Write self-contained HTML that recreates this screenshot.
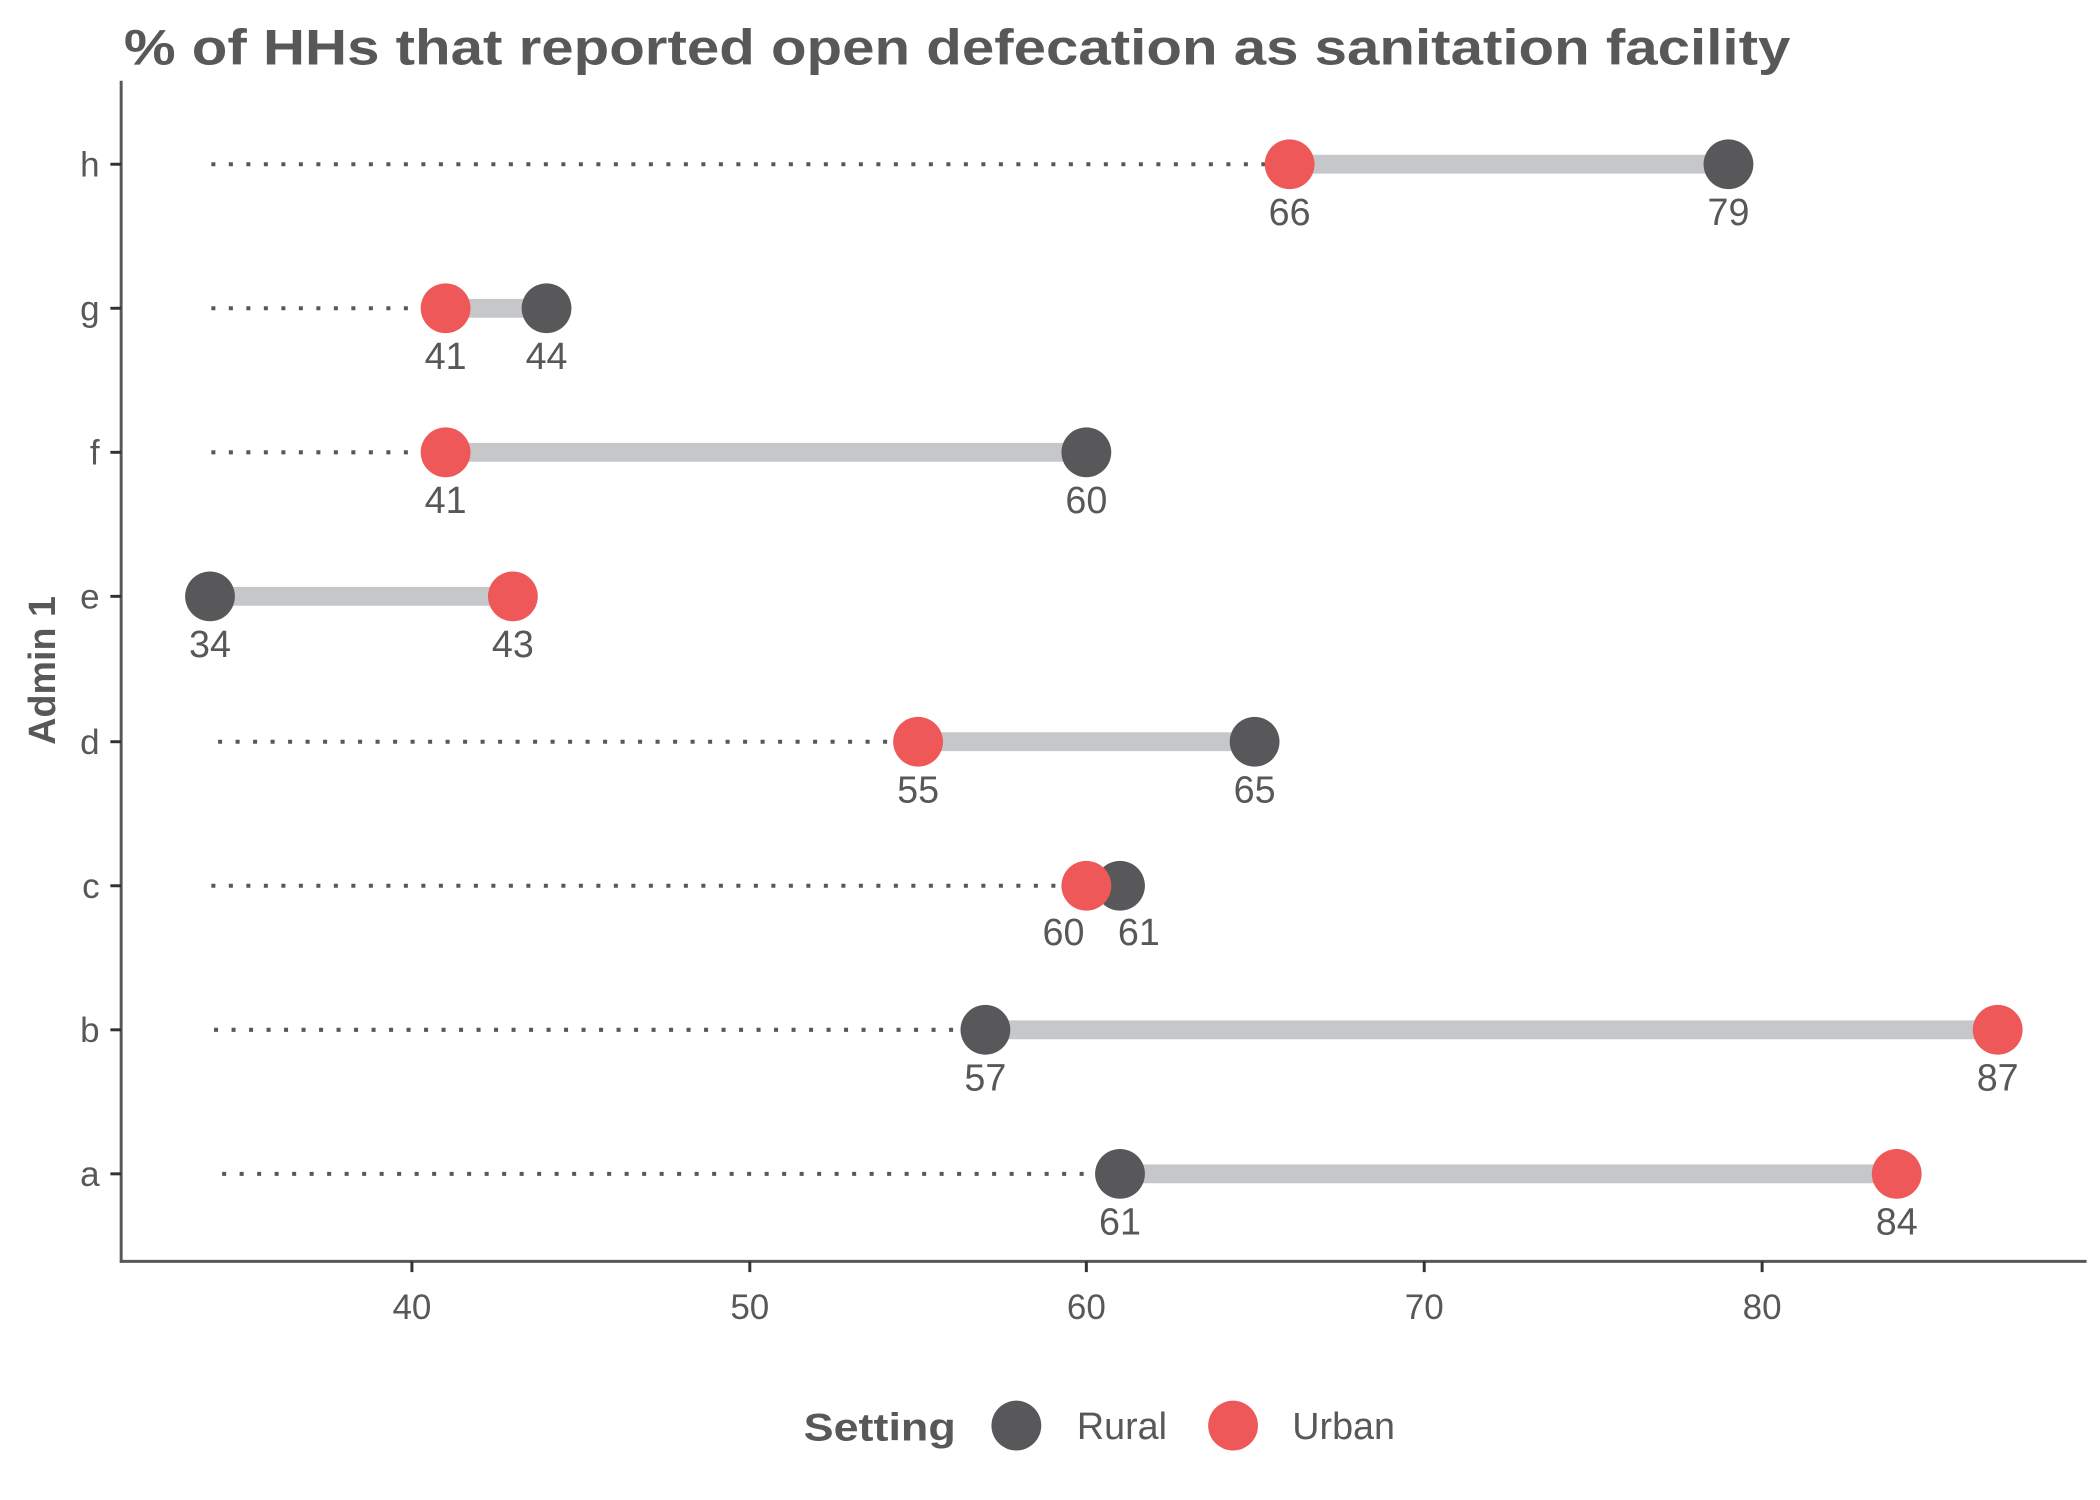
<!DOCTYPE html>
<html><head><meta charset="utf-8"><style>html,body{margin:0;padding:0;background:#fff;}svg{display:block;}</style></head>
<body>
<svg width="2100" height="1500" viewBox="0 0 1560 1114.29" xmlns="http://www.w3.org/2000/svg" font-family="Liberation Sans, sans-serif">
<rect width="1560" height="1114.29" fill="#fff"/>
<text x="92" y="48" font-size="37" font-weight="bold" fill="#58585a" textLength="1238" lengthAdjust="spacingAndGlyphs">% of HHs that reported open defecation as sanitation facility</text>
<line x1="90" y1="60" x2="90" y2="938" stroke="#58585a" stroke-width="2.2"/>
<line x1="89" y1="937" x2="1550" y2="937" stroke="#58585a" stroke-width="2.2"/>
<g stroke="#333" stroke-width="2.2">
<line x1="82" y1="122" x2="90" y2="122"/><line x1="82" y1="229" x2="90" y2="229"/><line x1="82" y1="336" x2="90" y2="336"/><line x1="82" y1="443" x2="90" y2="443"/><line x1="82" y1="551" x2="90" y2="551"/><line x1="82" y1="658" x2="90" y2="658"/><line x1="82" y1="765" x2="90" y2="765"/><line x1="82" y1="872" x2="90" y2="872"/>
<line x1="306" y1="937" x2="306" y2="945"/><line x1="557" y1="937" x2="557" y2="945"/><line x1="807" y1="937" x2="807" y2="945"/><line x1="1058" y1="937" x2="1058" y2="945"/><line x1="1309" y1="937" x2="1309" y2="945"/>
</g>
<g font-size="26" fill="#58585a" text-anchor="end">
<text x="74" y="131">h</text><text x="74" y="238">g</text><text x="74" y="345">f</text><text x="74" y="452">e</text><text x="74" y="560">d</text><text x="74" y="667">c</text><text x="74" y="774">b</text><text x="74" y="881">a</text>
</g>
<g font-size="26" fill="#58585a" text-anchor="middle">
<text x="306" y="980">40</text><text x="557" y="980">50</text><text x="807" y="980">60</text><text x="1058" y="980">70</text><text x="1309" y="980">80</text>
</g>
<text transform="translate(41,498) rotate(-90)" font-size="28" font-weight="bold" fill="#58585a" text-anchor="middle">Admin 1</text>
<g stroke="#58585a" stroke-width="3" stroke-dasharray="3 10">
<line x1="157" y1="122" x2="945" y2="122"/>
<line x1="157" y1="229" x2="318" y2="229"/>
<line x1="157" y1="336" x2="318" y2="336"/>
<line x1="162" y1="551" x2="668" y2="551"/>
<line x1="157" y1="658" x2="793" y2="658"/>
<line x1="159" y1="765" x2="718" y2="765"/>
<line x1="165" y1="872" x2="818" y2="872"/>
</g>
<g stroke="#c6c7c8" stroke-width="14">
<line x1="958" y1="122" x2="1284" y2="122"/>
<line x1="331" y1="229" x2="406" y2="229"/>
<line x1="331" y1="336" x2="807" y2="336"/>
<line x1="156" y1="443" x2="381" y2="443"/>
<line x1="682" y1="551" x2="932" y2="551"/>
<line x1="807" y1="658" x2="832" y2="658"/>
<line x1="732" y1="765" x2="1484" y2="765"/>
<line x1="832" y1="872" x2="1409" y2="872"/>
</g>
<g fill="#58585a">
<circle cx="1284" cy="122" r="18.5"/><circle cx="406" cy="229" r="18.5"/><circle cx="807" cy="336" r="18.5"/><circle cx="156" cy="443" r="18.5"/><circle cx="932" cy="551" r="18.5"/><circle cx="832" cy="658" r="18.5"/><circle cx="732" cy="765" r="18.5"/><circle cx="832" cy="872" r="18.5"/>
</g>
<g fill="#ee5859">
<circle cx="958" cy="122" r="18.5"/><circle cx="331" cy="229" r="18.5"/><circle cx="331" cy="336" r="18.5"/><circle cx="381" cy="443" r="18.5"/><circle cx="682" cy="551" r="18.5"/><circle cx="807" cy="658" r="18.5"/><circle cx="1484" cy="765" r="18.5"/><circle cx="1409" cy="872" r="18.5"/>
</g>
<g font-size="28" fill="#58585a" text-anchor="middle">
<text x="958" y="167">66</text><text x="1284" y="167">79</text>
<text x="331" y="274">41</text><text x="406" y="274">44</text>
<text x="331" y="381">41</text><text x="807" y="381">60</text>
<text x="156" y="488">34</text><text x="381" y="488">43</text>
<text x="682" y="596">55</text><text x="932" y="596">65</text>
<text x="790" y="702">60</text><text x="846" y="702">61</text>
<text x="732" y="810">57</text><text x="1484" y="810">87</text>
<text x="832" y="917">61</text><text x="1409" y="917">84</text>
</g>
<text x="597" y="1070" font-size="29" font-weight="bold" fill="#58585a" textLength="113" lengthAdjust="spacingAndGlyphs">Setting</text>
<circle cx="755" cy="1059" r="18.5" fill="#58585a"/>
<text x="800" y="1069" font-size="28" fill="#58585a">Rural</text>
<circle cx="916" cy="1059" r="18.5" fill="#ee5859"/>
<text x="960" y="1069" font-size="28" fill="#58585a">Urban</text>
</svg>
</body></html>
